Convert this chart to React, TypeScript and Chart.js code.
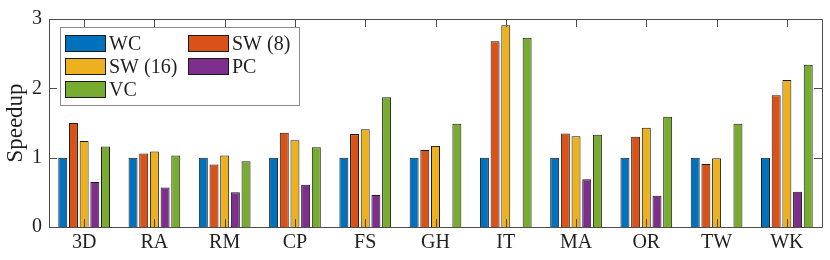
import React, { useEffect, useRef } from "react";
import { Chart, registerables } from "chart.js";

Chart.register(...registerables);

const categories = ["3D", "RA", "RM", "CP", "FS", "GH", "IT", "MA", "OR", "TW", "WK"];
const wcValues = [1, 1, 1, 1, 1, 1, 1, 1, 1, 1, 1];
const sw8Values = [1.5, 1.06, 0.9, 1.36, 1.34, 1.11, 2.68, 1.35, 1.3, 0.91, 1.9];
const sw16Values = [1.24, 1.09, 1.03, 1.25, 1.41, 1.17, 2.91, 1.31, 1.43, 0.99, 2.12];
const pcValues: (number | null)[] = [0.65, 0.57, 0.5, 0.61, 0.46, null, null, 0.69, 0.45, null, 0.51];
const vcValues = [1.16, 1.03, 0.95, 1.15, 1.87, 1.49, 2.73, 1.33, 1.59, 1.49, 2.34];
const seriesLabels = ["WC", "SW (8)", "SW (16)", "PC", "VC"];
const seriesColors = ["#0072BD", "#D95319", "#EDB120", "#7E2F8E", "#77AC30"];
const yTicks = [0, 1, 2, 3];

const FONT = "'Liberation Serif', 'Times New Roman', serif";
const AXIS_COLOR = "#4d4d4d";
const TEXT_COLOR = "#1f1f1f";

const boxPlugin = {
  id: "matlabBox",
  afterDraw(chart: any) {
    const ctx = chart.ctx;
    const a = chart.chartArea;
    const xs = chart.scales.x;
    const ys = chart.scales.y;
    const tl = 8;
    ctx.save();
    ctx.strokeStyle = AXIS_COLOR;
    ctx.lineWidth = 1;
    ctx.beginPath();
    ctx.rect(Math.round(a.left) + 0.5, Math.round(a.top) + 0.5, Math.round(a.right - a.left), Math.round(a.bottom - a.top));
    categories.forEach((_, i) => {
      const x = Math.round(xs.getPixelForValue(i)) + 0.5;
      ctx.moveTo(x, a.top);
      ctx.lineTo(x, a.top + tl);
      ctx.moveTo(x, a.bottom);
      ctx.lineTo(x, a.bottom - tl);
    });
    yTicks.forEach((v) => {
      const y = Math.round(ys.getPixelForValue(v)) + 0.5;
      ctx.moveTo(a.left, y);
      ctx.lineTo(a.left + tl, y);
      ctx.moveTo(a.right, y);
      ctx.lineTo(a.right - tl, y);
    });
    ctx.stroke();

    // legend
    const lx = Math.round(a.left) + 11;
    const ly = Math.round(a.top) + 8;
    const lw = 239;
    const lh = 78;
    ctx.fillStyle = "#ffffff";
    ctx.fillRect(lx, ly, lw, lh);
    ctx.strokeStyle = "#8c8c8c";
    ctx.strokeRect(lx + 0.5, ly + 0.5, lw, lh);
    const colX = [lx + 5, lx + 128];
    const rowY = [ly + 8, ly + 31, ly + 54];
    const sw = 41;
    const sh = 17;
    ctx.font = `20px ${FONT}`;
    ctx.textBaseline = "middle";
    ctx.textAlign = "left";
    seriesLabels.forEach((lab, i) => {
      const col = i % 2;
      const row = Math.floor(i / 2);
      const x = colX[col];
      const y = rowY[row];
      ctx.fillStyle = seriesColors[i];
      ctx.fillRect(x, y, sw, sh);
      ctx.strokeStyle = "#1a1a1a";
      ctx.strokeRect(x + 0.5, y + 0.5, sw - 1, sh - 1);
      ctx.fillStyle = TEXT_COLOR;
      ctx.fillText(lab, x + sw + 3, y + sh / 2 + 1);
    });
    ctx.restore();
  },
};

export default function App() {
  const ref = useRef<HTMLCanvasElement>(null);
  useEffect(() => {
    document.body.style.margin = "0";
    const values = [wcValues, sw8Values, sw16Values, pcValues, vcValues];
    const chart = new Chart(ref.current!, {
      type: "bar",
      data: {
        labels: categories,
        datasets: seriesLabels.map((lab, i) => ({
          label: lab,
          data: values[i] as any,
          backgroundColor: seriesColors[i],
          borderColor: "#1a1a1a",
          borderWidth: 1,
          categoryPercentage: 0.76,
          barPercentage: 0.84,
        })),
      },
      options: {
        animation: false,
        responsive: false,
        devicePixelRatio: 1,
        layout: { padding: { top: 12, right: 8, left: 0, bottom: 0 } },
        plugins: { legend: { display: false }, tooltip: { enabled: false } },
        scales: {
          x: {
            grid: { display: false, drawTicks: false },
            border: { display: false },
            ticks: { font: { family: FONT, size: 20 }, color: TEXT_COLOR, padding: 4, maxRotation: 0 },
            afterFit: (s: any) => { s.height = 33; },
          },
          y: {
            min: 0,
            max: 3,
            grid: { display: false, drawTicks: false },
            border: { display: false },
            ticks: { stepSize: 1, font: { family: FONT, size: 20 }, color: TEXT_COLOR, padding: 7 },
            title: { display: true, text: "Speedup", font: { family: FONT, size: 23 }, color: TEXT_COLOR, padding: { top: 2, bottom: 0 } },
            afterFit: (s: any) => { s.width = 49; },
          },
        },
      },
      plugins: [boxPlugin],
    });
    return () => chart.destroy();
  }, []);
  return <canvas ref={ref} width={830} height={260} style={{ display: "block" }} />;
}
